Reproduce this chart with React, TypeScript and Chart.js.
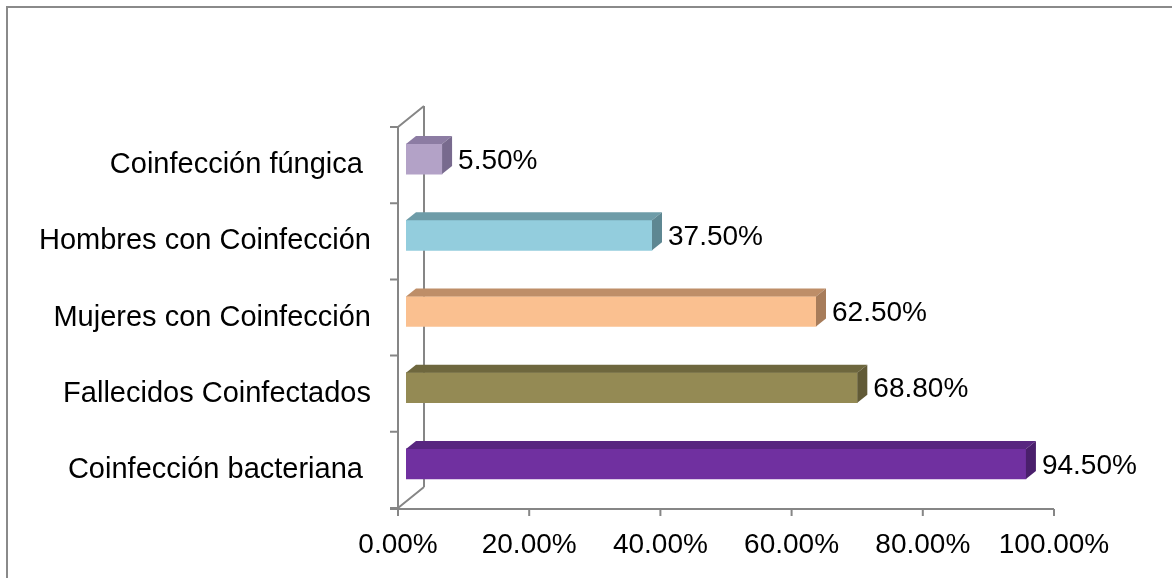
import React, { useEffect, useRef } from "react";
import { Chart, registerables } from "chart.js";

Chart.register(...registerables);

const categories = [
  "Coinfección fúngica ",
  "Hombres con Coinfección",
  "Mujeres con Coinfección",
  "Fallecidos Coinfectados",
  "Coinfección bacteriana ",
];
const values = [5.5, 37.5, 62.5, 68.8, 94.5];
const valueLabels = ["5.50%", "37.50%", "62.50%", "68.80%", "94.50%"];
const frontColors = ["#B3A2C7", "#93CDDD", "#FAC090", "#948A54", "#7030A0"];
const topColors = ["#8C7CA3", "#6E9CA8", "#BE8E68", "#6E673E", "#582680"];
const sideColors = ["#786A8E", "#5E8792", "#A77C5A", "#615A36", "#4A1F6C"];
const xTicks = [0, 20, 40, 60, 80, 100];

const FONT = '"Liberation Sans", Arial, sans-serif';
const AXIS = "#868686";
const BAR_DX = 8;
const BAR_DY = -6;
const DEPTH_X = 10;
const DEPTH_Y = 8;
const WALL_X = 26;
const WALL_Y = 21;

const threeD = {
  id: "threeD",
  beforeDatasetsDraw(chart: any) {
    const ctx = chart.ctx;
    const xs = chart.scales.x;
    const ys = chart.scales.y;
    const x0 = xs.getPixelForValue(0);
    const top = ys.top;
    const bottom = ys.bottom;
    ctx.save();
    ctx.strokeStyle = AXIS;
    ctx.lineWidth = 2;
    ctx.beginPath();
    ctx.moveTo(x0 + WALL_X, top - WALL_Y);
    ctx.lineTo(x0 + WALL_X, bottom - WALL_Y);
    ctx.moveTo(x0, top);
    ctx.lineTo(x0 + WALL_X, top - WALL_Y);
    ctx.moveTo(x0, bottom);
    ctx.lineTo(x0 + WALL_X, bottom - WALL_Y);
    ctx.moveTo(x0, top);
    ctx.lineTo(x0, bottom + 1);
    const n = categories.length;
    for (let i = 0; i <= n; i++) {
      const y = top + ((bottom - top) * i) / n;
      ctx.moveTo(x0 - 8, y);
      ctx.lineTo(x0, y);
    }
    ctx.moveTo(x0 - 8, bottom + 1);
    ctx.lineTo(xs.getPixelForValue(100), bottom + 1);
    for (const t of xTicks) {
      const x = xs.getPixelForValue(t);
      ctx.moveTo(x, bottom + 1);
      ctx.lineTo(x, bottom + 8);
    }
    ctx.stroke();
    ctx.restore();
    ctx.save();
    ctx.translate(BAR_DX, BAR_DY);
  },
  afterDatasetsDraw(chart: any) {
    const ctx = chart.ctx;
    const meta = chart.getDatasetMeta(0);
    meta.data.forEach((bar: any, i: number) => {
      const { x, y, base, height } = bar.getProps(["x", "y", "base", "height"], true);
      const t = y - height / 2;
      const b = y + height / 2;
      ctx.fillStyle = topColors[i];
      ctx.beginPath();
      ctx.moveTo(base, t);
      ctx.lineTo(base + DEPTH_X, t - DEPTH_Y);
      ctx.lineTo(x + DEPTH_X, t - DEPTH_Y);
      ctx.lineTo(x, t);
      ctx.closePath();
      ctx.fill();
      ctx.fillStyle = sideColors[i];
      ctx.beginPath();
      ctx.moveTo(x, t);
      ctx.lineTo(x + DEPTH_X, t - DEPTH_Y);
      ctx.lineTo(x + DEPTH_X, b - DEPTH_Y);
      ctx.lineTo(x, b);
      ctx.closePath();
      ctx.fill();
      ctx.fillStyle = "#000";
      ctx.font = `28px ${FONT}`;
      ctx.textAlign = "left";
      ctx.textBaseline = "middle";
      ctx.fillText(valueLabels[i], x + DEPTH_X + 6, y + 2);
    });
    ctx.restore();
  },
};

export default function App() {
  const ref = useRef<HTMLCanvasElement | null>(null);
  useEffect(() => {
    if (!ref.current) return;
    const chart = new Chart(ref.current, {
      type: "bar",
      data: {
        labels: categories,
        datasets: [
          {
            data: values,
            backgroundColor: frontColors,
            barThickness: 30,
            borderWidth: 0,
          },
        ],
      },
      plugins: [threeD],
      options: {
        indexAxis: "y",
        animation: false,
        responsive: false,
        maintainAspectRatio: false,
        layout: { padding: { left: 0, right: 118, top: 127, bottom: 0 } },
        plugins: { legend: { display: false }, tooltip: { enabled: false } },
        scales: {
          x: {
            min: 0,
            max: 100,
            afterFit: (s: any) => {
              s.height = 70;
            },
            afterBuildTicks: (s: any) => {
              s.ticks = xTicks.map((v) => ({ value: v }));
            },
            grid: { display: false, drawTicks: false },
            border: { display: false },
            ticks: {
              padding: 20,
              color: "#000",
              font: { family: FONT, size: 28 },
              maxRotation: 0,
              callback: (v: any) => Number(v).toFixed(2) + "%",
            },
          },
          y: {
            afterFit: (s: any) => {
              s.width = 398;
            },
            grid: { display: false, drawTicks: false },
            border: { display: false },
            ticks: {
              padding: 27,
              color: "#000",
              font: { family: FONT, size: 29 },
            },
          },
        },
      },
    });
    return () => chart.destroy();
  }, []);
  return (
    <div style={{ position: "fixed", left: 0, top: 0, width: 1172, height: 578, background: "#fff" }}>
      <div
        style={{
          position: "absolute",
          left: 6,
          top: 6,
          width: 1200,
          height: 600,
          borderLeft: "2px solid #8A8A8A",
          borderTop: "2px solid #8A8A8A",
        }}
      />
      <canvas ref={ref} width={1172} height={578} style={{ position: "absolute", left: 0, top: 0 }} />
    </div>
  );
}
